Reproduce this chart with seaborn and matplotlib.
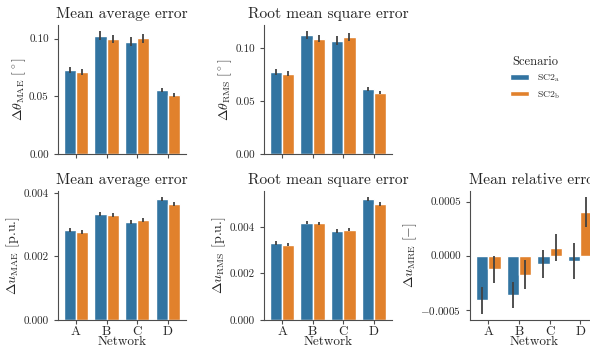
import pandas as pd
import seaborn as sns
import matplotlib.pyplot as plt

# Datos
networks = ['A', 'B', 'C', 'D']
scenarios = ['SC2$_\\mathrm{a}$', 'SC2$_\\mathrm{b}$']

theta_mae_a = [0.0728, 0.1026, 0.0975, 0.0556]
theta_mae_b = [0.0708, 0.1000, 0.1003, 0.0513]
theta_mae_err_a = [0.0030, 0.0040, 0.0040, 0.0015]
theta_mae_err_b = [0.0025, 0.0035, 0.0040, 0.0020]

theta_rms_a = [0.0780, 0.1125, 0.1075, 0.0619]
theta_rms_b = [0.0762, 0.1093, 0.1110, 0.0581]
theta_rms_err_a = [0.0030, 0.0040, 0.0040, 0.0020]
theta_rms_err_b = [0.0025, 0.0035, 0.0040, 0.0015]

u_mae_a = [0.002817, 0.003340, 0.003089, 0.003812]
u_mae_b = [0.002775, 0.003288, 0.003141, 0.003634]
u_mae_err_a = [0.00006, 0.00006, 0.00006, 0.00006]
u_mae_err_b = [0.00006, 0.00006, 0.00006, 0.00006]

u_rms_a = [0.003310, 0.004187, 0.003827, 0.005209]
u_rms_b = [0.003237, 0.004158, 0.003885, 0.004993]
u_rms_err_a = [0.00007, 0.00007, 0.00008, 0.00009]
u_rms_err_b = [0.00006, 0.00006, 0.00007, 0.00009]

u_mre_a = [-0.000414, -0.000367, -0.000077, -0.000052]
u_mre_b = [-0.000127, -0.000176, 0.000074, 0.000407]
u_mre_err_a = [0.000127, 0.000122, 0.000131, 0.000165]
u_mre_err_b = [0.000123, 0.000136, 0.000123, 0.000140]

paneles = [
    (0, 0, 'Mean average error', r'$\Delta\theta_\mathrm{MAE}\ [^\circ]$',
     theta_mae_a, theta_mae_b, theta_mae_err_a, theta_mae_err_b),
    (0, 1, 'Root mean square error', r'$\Delta\theta_\mathrm{RMS}\ [^\circ]$',
     theta_rms_a, theta_rms_b, theta_rms_err_a, theta_rms_err_b),
    (1, 0, 'Mean average error', r'$\Delta u_\mathrm{MAE}$ [p.u.]',
     u_mae_a, u_mae_b, u_mae_err_a, u_mae_err_b),
    (1, 1, 'Root mean square error', r'$\Delta u_\mathrm{RMS}$ [p.u.]',
     u_rms_a, u_rms_b, u_rms_err_a, u_rms_err_b),
    (1, 2, 'Mean relative error', r'$\Delta u_\mathrm{MRE}\ [-]$',
     u_mre_a, u_mre_b, u_mre_err_a, u_mre_err_b),
]

# Configuracion visual
sns.set_style('ticks')
plt.rcParams['font.family'] = 'serif'
plt.rcParams['font.serif'] = ['cmr10']
plt.rcParams['mathtext.fontset'] = 'cm'
plt.rcParams['axes.formatter.use_mathtext'] = True
plt.rcParams['axes.edgecolor'] = '.3'
plt.rcParams['xtick.color'] = '.3'
plt.rcParams['ytick.color'] = '.3'
plt.rcParams['xtick.labelcolor'] = '.15'
plt.rcParams['ytick.labelcolor'] = '.15'

fig, axes = plt.subplots(2, 3, figsize=(5.9, 3.5), dpi=100)
fig.subplots_adjust(left=0.098, right=1.014, bottom=0.086, top=0.929,
                    wspace=0.61, hspace=0.283)

handles, labels = None, None
for fila, col, titulo, ylabel, va, vb, ea, eb in paneles:
    ax = axes[fila, col]
    df = pd.DataFrame({
        'Network': networks * 2,
        'Scenario': [scenarios[0]] * 4 + [scenarios[1]] * 4,
        'valor': va + vb,
    })
    sns.barplot(data=df, x='Network', y='valor', hue='Scenario',
                errorbar=None, ax=ax, legend=(handles is None))
    for cont, err in zip(ax.containers, [ea, eb]):
        xs = [b.get_x() + b.get_width() / 2 for b in cont]
        ys = [b.get_height() for b in cont]
        ax.errorbar(xs, ys, yerr=err, fmt='none', ecolor='.26',
                    elinewidth=1.3, capsize=0)
    if handles is None:
        handles, labels = ax.get_legend_handles_labels()
        ax.get_legend().remove()
    ax.set_title(titulo, fontsize=11.2, pad=5)
    ax.set_ylabel(ylabel, fontsize=10, labelpad=1)
    ax.tick_params(labelsize=8, length=3)
    if fila == 0:
        ax.set_xlabel('')
        ax.set_xticklabels([])
    else:
        ax.set_xlabel('Network', fontsize=9.5, labelpad=-1)
        ax.tick_params(axis='x', labelsize=9.5, pad=1)
    sns.despine(ax=ax)

axes[0, 0].set_yticks([0.0, 0.05, 0.10])
axes[0, 1].set_yticks([0.0, 0.05, 0.10])
axes[1, 0].set_yticks([0.0, 0.002, 0.004])
axes[1, 1].set_yticks([0.0, 0.002, 0.004])
axes[1, 2].set_yticks([-0.0005, 0.0, 0.0005])
axes[0, 0].set_yticklabels(['0.00', '0.05', '0.10'])
axes[0, 1].set_yticklabels(['0.00', '0.05', '0.10'])
axes[1, 0].set_yticklabels(['0.000', '0.002', '0.004'])
axes[1, 1].set_yticklabels(['0.000', '0.002', '0.004'])
axes[1, 2].set_yticklabels(['$-$0.0005', '0.0000', '0.0005'])

axes[0, 2].axis('off')
fig.legend(handles, labels, title='Scenario', frameon=False, loc='center',
           bbox_to_anchor=(0.907, 0.777), fontsize=7, title_fontsize=9,
           handleheight=0.5)

plt.savefig('out.png', dpi=100)
plt.close()
